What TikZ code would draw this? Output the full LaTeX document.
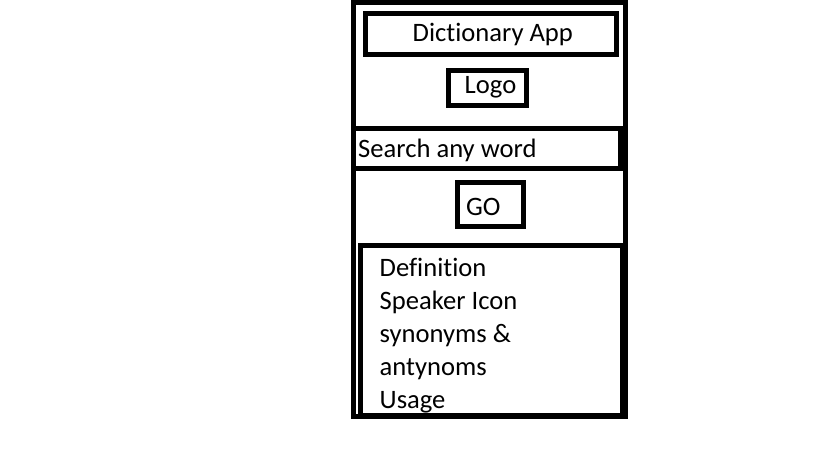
\documentclass[tikz,border=0pt]{standalone}
\usepackage{fontspec}
\setmainfont{Carlito}[Ligatures=CommonOff]
\usepackage{tikz}

\begin{document}
\begin{tikzpicture}[x=1pt,y=-1pt,
    frame/.style={line width=5pt},
    lbl/.style={font=\fontsize{26.6}{31}\selectfont, inner sep=0pt, anchor=base west}]
    \useasboundingbox[fill=white] (0,0) rectangle (819,460);

    % phone outline
    \draw[frame] (353.5,2.5) rectangle (625.5,416.5);

    % header with title and logo
    \draw[frame] (365,14) rectangle (616.5,54.5);
    \node[lbl] (title) at (412.5,42) {Dictionary App};
    \draw[frame] (448.5,70.5) rectangle (526,105.5);
    \node[lbl] (logo) at (464.5,93) {Logo};

    % search field and button
    \draw[frame] (353.5,128.5) rectangle (620.5,168.5);
    \node[lbl] (search) at (358,157) {Search any word};
    \draw[frame] (457.5,182.5) rectangle (523,226);
    \node[lbl] (go) at (466,215) {GO};

    % result panel
    \draw[frame] (360.5,245.5) rectangle (622.5,415);
    \foreach \txt/\name [count=\i from 0] in {Definition/def, Speaker Icon/speaker,
        synonyms \&/syn, antynoms/ant, Usage/usage}
        \node[lbl] (\name) at (379.5,276+33*\i) {\txt};
\end{tikzpicture}
\end{document}
